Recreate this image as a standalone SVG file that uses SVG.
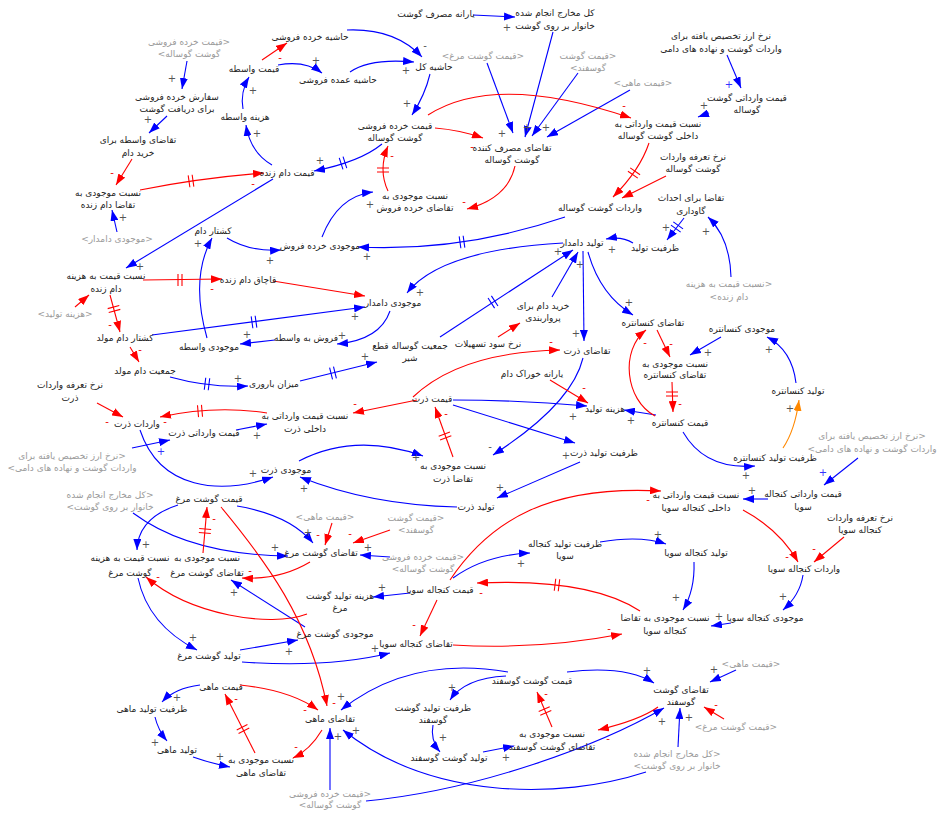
<svg xmlns="http://www.w3.org/2000/svg" xmlns:xlink="http://www.w3.org/1999/xlink" width="941" height="814" viewBox="0 0 941 814">
<style>
.t{font-family:'DejaVu Sans',sans-serif;font-size:9px;fill:#222;text-anchor:middle;direction:rtl}
.g{fill:#9a9a9a}
.s{font-family:'DejaVu Sans',sans-serif;font-size:10px;fill:#555;text-anchor:middle}
.sm{fill:#e00}
.sb{fill:#33f}
.b{fill:none;stroke:#00f;stroke-width:1.1;marker-end:url(#ab)}
.r{fill:none;stroke:#f00;stroke-width:1.1;marker-end:url(#ar)}
.o{fill:none;stroke:#f80;stroke-width:1.1;marker-end:url(#ao)}
.db{stroke:#00f;stroke-width:1.1;fill:none}
.dr{stroke:#f00;stroke-width:1.1;fill:none}
</style>
<defs>
<marker id="ab" viewBox="0 0 11 8" refX="11" refY="4" markerWidth="11" markerHeight="8" markerUnits="userSpaceOnUse" orient="auto"><path d="M0,0L11,4L0,8z" fill="#00f"/></marker>
<marker id="ar" viewBox="0 0 11 8" refX="11" refY="4" markerWidth="11" markerHeight="8" markerUnits="userSpaceOnUse" orient="auto"><path d="M0,0L11,4L0,8z" fill="#f00"/></marker>
<marker id="ao" viewBox="0 0 11 8" refX="11" refY="4" markerWidth="11" markerHeight="8" markerUnits="userSpaceOnUse" orient="auto"><path d="M0,0L11,4L0,8z" fill="#f80"/></marker>
<path id="dm" d="M-2,-6V6M2,-6V6"/>
</defs>
<rect width="941" height="814" fill="#fff"/>

<g id="connectors">
<path class="b" d="M187,61L182,89"/>
<path class="b" d="M167,116L149,133"/>
<path class="b" d="M272,165Q250,152 246,125"/>
<path class="b" d="M243,109Q240,92 249,77"/>
<path class="b" d="M278,65Q305,60 322,73"/>
<path class="b" d="M347,30Q395,28 422,57"/>
<path class="b" d="M350,72Q370,58 414,62"/>
<path class="b" d="M430,74Q425,95 412,115"/>
<path class="b" d="M473,15L515,17"/>
<path class="b" d="M553,32L525,137"/>
<path class="b" d="M487,63L513,133"/>
<path class="b" d="M578,73L532,136"/>
<path class="b" d="M630,90L547,137"/>
<path class="b" d="M727,55L741,88"/>
<path class="b" d="M709,113L698,117"/>
<path class="b" d="M382,144Q360,162 314,171"/>
<path class="b" d="M565,217Q462,252 358,247"/>
<path class="b" d="M322,237Q338,196 373,192"/>
<path class="b" d="M227,238Q250,252 281,250"/>
<path class="b" d="M117,232L112,210"/>
<path class="b" d="M273,179L126,268"/>
<path class="b" d="M207,338Q190,278 212,238"/>
<path class="b" d="M152,335L365,307"/>
<path class="b" d="M275,340L240,344"/>
<path class="b" d="M390,311Q380,340 337,344"/>
<path class="b" d="M170,377Q210,388 248,386"/>
<path class="b" d="M300,381L377,362"/>
<path class="b" d="M440,337L573,250"/>
<path class="b" d="M552,297L578,252"/>
<path class="b" d="M563,243Q440,250 407,293"/>
<path class="b" d="M633,243Q622,236 606,239"/>
<path class="b" d="M684,218L667,240"/>
<path class="b" d="M731,277Q730,238 708,217"/>
<path class="b" d="M583,251L584,341"/>
<path class="b" d="M588,252Q600,295 633,315"/>
<path class="b" d="M721,337L690,355"/>
<path class="b" d="M796,383Q792,350 767,337"/>
<path class="b" d="M656,415L624,410"/>
<path class="b" d="M683,432Q705,470 755,466"/>
<path class="b" d="M453,400Q520,400 587,406"/>
<path class="b" d="M453,405L575,443"/>
<path class="b" d="M583,358Q572,404 493,455"/>
<path class="b" d="M580,462L497,498"/>
<path class="b" d="M236,430L267,424"/>
<path class="b" d="M132,448L170,440"/>
<path class="b" d="M140,430C160,490 220,495 273,477"/>
<path class="b" d="M299,461Q355,432 423,456"/>
<path class="b" d="M457,507Q370,505 300,477"/>
<path class="b" d="M133,513Q190,555 288,556"/>
<path class="b" d="M178,505Q138,518 137,550"/>
<path class="b" d="M237,506Q290,515 313,543"/>
<path class="b" d="M305,627L231,580"/>
<path class="b" d="M138,578Q148,625 197,650"/>
<path class="b" d="M240,650L298,640"/>
<path class="b" d="M242,662Q330,668 390,653"/>
<path class="b" d="M410,593L373,597"/>
<path class="b" d="M453,578Q485,555 530,553"/>
<path class="b" d="M600,542Q640,535 666,544"/>
<path class="b" d="M694,562Q695,590 683,610"/>
<path class="b" d="M731,623L711,626"/>
<path class="b" d="M803,575Q800,595 783,610"/>
<path class="b" d="M768,499L743,499"/>
<path class="b" d="M858,458L824,485"/>
<path class="b" d="M390,557L360,555"/>
<path class="b" d="M200,685Q175,688 162,702"/>
<path class="b" d="M155,717Q158,730 167,741"/>
<path class="b" d="M193,757Q210,763 230,767"/>
<path class="b" d="M330,790L330,728"/>
<path class="b" d="M508,672Q410,655 341,710"/>
<path class="b" d="M646,772C560,800 430,800 343,730"/>
<path class="b" d="M366,801C480,790 600,745 664,708"/>
<path class="b" d="M506,676Q465,678 450,700"/>
<path class="b" d="M433,725Q430,740 440,752"/>
<path class="b" d="M483,752L514,746"/>
<path class="b" d="M567,672Q625,665 654,683"/>
<path class="b" d="M736,670L710,682"/>
<path class="b" d="M678,747L680,708"/>

<path class="r" d="M132,159L116,185"/>
<path class="r" d="M140,190Q200,178 264,173"/>
<path class="r" d="M262,60L287,43"/>
<path class="r" d="M435,128Q460,130 483,138"/>
<path class="r" d="M428,115Q495,72 631,118"/>
<path class="r" d="M515,166Q508,198 467,209"/>
<path class="r" d="M388,191Q378,170 388,146"/>
<path class="r" d="M649,143Q640,170 613,197"/>
<path class="r" d="M666,176L622,198"/>
<path class="r" d="M143,280L222,279"/>
<path class="r" d="M273,281L365,296"/>
<path class="r" d="M110,295L120,332"/>
<path class="r" d="M75,307L89,295"/>
<path class="r" d="M130,347L139,362"/>
<path class="r" d="M498,337L520,323"/>
<path class="r" d="M657,330L670,357"/>
<path class="r" d="M672,382L673,412"/>
<path class="r" d="M655,416C625,400 620,350 646,330"/>
<path class="r" d="M413,397Q460,352 560,350"/>
<path class="r" d="M550,380L588,403"/>
<path class="r" d="M453,457L435,407"/>
<path class="r" d="M417,400L353,413"/>
<path class="r" d="M267,413Q215,405 160,417"/>
<path class="r" d="M97,403L123,417"/>
<path class="r" d="M203,553L207,507"/>
<path class="r" d="M310,562Q280,580 242,578"/>
<path class="r" d="M221,507C265,560 310,620 327,706"/>
<path class="r" d="M332,523L325,545"/>
<path class="r" d="M390,530L353,543"/>
<path class="r" d="M307,614C270,628 190,615 146,577"/>
<path class="r" d="M450,580C490,520 550,485 661,491"/>
<path class="r" d="M640,611Q590,578 477,583"/>
<path class="r" d="M437,600L420,636"/>
<path class="r" d="M453,645Q540,650 622,634"/>
<path class="r" d="M743,510Q780,530 798,562"/>
<path class="r" d="M844,537L814,562"/>
<path class="r" d="M240,685Q290,690 318,710"/>
<path class="r" d="M322,730Q310,750 293,758"/>
<path class="r" d="M255,753L225,694"/>
<path class="r" d="M552,727L537,692"/>
<path class="r" d="M658,707Q640,720 598,730"/>
<path class="r" d="M724,719L704,707"/>

<path class="o" d="M783,448Q795,430 799,400"/>

<use href="#dm" class="dr" transform="translate(191,181) rotate(-8)"/>
<use href="#dm" class="dr" transform="translate(383,170) rotate(-90)"/>
<use href="#dm" class="db" transform="translate(343,163) rotate(162)"/>
<use href="#dm" class="dr" transform="translate(634,173) rotate(125)"/>
<use href="#dm" class="db" transform="translate(462,242) rotate(172)"/>
<use href="#dm" class="dr" transform="translate(180,280) rotate(0)"/>
<use href="#dm" class="dr" transform="translate(114,309) rotate(75)"/>
<use href="#dm" class="db" transform="translate(254,322) rotate(-8)"/>
<use href="#dm" class="db" transform="translate(207,384) rotate(7)"/>
<use href="#dm" class="db" transform="translate(333,373) rotate(-14)"/>
<use href="#dm" class="db" transform="translate(493,302) rotate(-33)"/>
<use href="#dm" class="db" transform="translate(677,227) rotate(126)"/>
<use href="#dm" class="dr" transform="translate(672,394) rotate(90)"/>
<use href="#dm" class="dr" transform="translate(445,436) rotate(-110)"/>
<use href="#dm" class="dr" transform="translate(200,411) rotate(175)"/>
<use href="#dm" class="dr" transform="translate(205,531) rotate(-85)"/>
<use href="#dm" class="dr" transform="translate(557,585) rotate(187)"/>
<use href="#dm" class="dr" transform="translate(243,729) rotate(-117)"/>
<use href="#dm" class="dr" transform="translate(545,711) rotate(-113)"/>

<g id="signs">
<text class="s" x="172" y="82">+</text>
<text class="s" x="148" y="123">+</text>
<text class="s sm" x="112" y="176">-</text>
<text class="s sm" x="253" y="187">-</text>
<text class="s" x="253" y="94">+</text>
<text class="s" x="257" y="137">+</text>
<text class="s sm" x="280" y="61">-</text>
<text class="s" x="316" y="64">+</text>
<text class="s" x="425" y="49">-</text>
<text class="s" x="406" y="74">+</text>
<text class="s" x="407" y="107">+</text>
<text class="s" x="507" y="31">+</text>
<text class="s" x="527" y="131">+</text>
<text class="s" x="502" y="137">+</text>
<text class="s" x="546" y="131">+</text>
<text class="s sm" x="472" y="150">-</text>
<text class="s sm" x="624" y="109">-</text>
<text class="s sm" x="464" y="205">-</text>
<text class="s sm" x="392" y="159">-</text>
<text class="s" x="320" y="164">+</text>
<text class="s sb" x="729" y="88">+</text>
<text class="s" x="704" y="109">+</text>
<text class="s" x="367" y="260">+</text>
<text class="s" x="370" y="208">+</text>
<text class="s" x="270" y="264">+</text>
<text class="s" x="123" y="221">+</text>
<text class="s" x="140" y="270">+</text>
<text class="s" x="198" y="247">+</text>
<text class="s sm" x="212" y="292">-</text>
<text class="s sm" x="110" y="328">-</text>
<text class="s sm" x="140" y="353">-</text>
<text class="s" x="355" y="320">+</text>
<text class="s" x="247" y="338">+</text>
<text class="s" x="342" y="339">+</text>
<text class="s" x="238" y="382">+</text>
<text class="s" x="365" y="360">+</text>
<text class="s" x="420" y="296">+</text>
<text class="s" x="558" y="255">+</text>
<text class="s" x="612" y="253">+</text>
<text class="s" x="580" y="268">+</text>
<text class="s" x="666" y="231">+</text>
<text class="s" x="706" y="235">+</text>
<text class="s" x="576" y="337">+</text>
<text class="s" x="629" y="306">+</text>
<text class="s sm" x="671" y="347">-</text>
<text class="s" x="708" y="356">+</text>
<text class="s sm" x="680" y="407">-</text>
<text class="s sm" x="645" y="346">-</text>
<text class="s" x="769" y="353">+</text>
<text class="s" x="790" y="412">+</text>
<text class="s" x="631" y="424">+</text>
<text class="s" x="746" y="479">+</text>
<text class="s sm" x="551" y="345">-</text>
<text class="s sm" x="584" y="391">-</text>
<text class="s" x="573" y="420">+</text>
<text class="s" x="566" y="459">+</text>
<text class="s" x="490" y="450">-</text>
<text class="s" x="500" y="491">+</text>
<text class="s sm" x="446" y="417">-</text>
<text class="s sm" x="355" y="407">-</text>
<text class="s sm" x="165" y="425">-</text>
<text class="s sm" x="107" y="425">-</text>
<text class="s" x="257" y="439">+</text>
<text class="s sb" x="161" y="455">+</text>
<text class="s" x="253" y="477">+</text>
<text class="s" x="416" y="461">+</text>
<text class="s" x="304" y="492">+</text>
<text class="s sm" x="214" y="522">-</text>
<text class="s" x="275" y="551">+</text>
<text class="s" x="146" y="548">+</text>
<text class="s" x="308" y="536">+</text>
<text class="s sm" x="250" y="574">-</text>
<text class="s" x="234" y="596">+</text>
<text class="s sm" x="158" y="580">-</text>
<text class="s" x="193" y="641">+</text>
<text class="s" x="289" y="655">+</text>
<text class="s sm" x="318" y="538">-</text>
<text class="s sm" x="350" y="537">-</text>
<text class="s" x="368" y="551">+</text>
<text class="s" x="375" y="652">+</text>
<text class="s" x="382" y="591">+</text>
<text class="s sm" x="648" y="503">-</text>
<text class="s sm" x="481" y="596">-</text>
<text class="s" x="521" y="567">+</text>
<text class="s" x="658" y="538">+</text>
<text class="s" x="676" y="601">+</text>
<text class="s" x="719" y="620">+</text>
<text class="s" x="783" y="600">+</text>
<text class="s" x="752" y="494">+</text>
<text class="s sb" x="823" y="476">+</text>
<text class="s sm" x="787" y="560">-</text>
<text class="s sm" x="814" y="552">-</text>
<text class="s sm" x="414" y="628">-</text>
<text class="s sm" x="609" y="632">-</text>
<text class="s" x="177" y="701">+</text>
<text class="s" x="155" y="746">+</text>
<text class="s" x="220" y="760">+</text>
<text class="s sm" x="236" y="702">-</text>
<text class="s sm" x="305" y="713">-</text>
<text class="s sm" x="296" y="750">-</text>
<text class="s sm" x="334" y="706">-</text>
<text class="s" x="341" y="700">+</text>
<text class="s" x="338" y="740">+</text>
<text class="s" x="356" y="734">+</text>
<text class="s" x="452" y="691">+</text>
<text class="s" x="443" y="741">+</text>
<text class="s" x="506" y="761">+</text>
<text class="s sm" x="546" y="697">-</text>
<text class="s sm" x="608" y="742">-</text>
<text class="s" x="647" y="674">+</text>
<text class="s" x="714" y="673">+</text>
<text class="s sm" x="716" y="708">-</text>
<text class="s" x="689" y="721">+</text>
<text class="s" x="662" y="725">+</text>
</g>
</g>

<g id="n01"><text class="t" x="310" y="40">حاشیه خرده فروشی</text></g>
<g id="n02"><text class="t" x="254" y="72">قیمت واسطه</text></g>
<g id="n03"><text class="t" x="338" y="83">حاشیه عمده فروشی</text></g>
<g id="n04"><text class="t" x="434" y="70">حاشیه کل</text></g>
<g id="n05"><text class="t" x="436" y="17">یارانه مصرف گوشت</text></g>
<g id="n06"><text class="t" x="555" y="16"><tspan x="555">کل مخارج انجام شده</tspan><tspan x="555" dy="13">خانوار بر روی گوشت</tspan></text></g>
<g id="n07"><text class="t g" x="189" y="45"><tspan x="189">&lt;قیمت خرده فروشی</tspan><tspan x="189" dy="12">گوشت گوساله&gt;</tspan></text></g>
<g id="n08"><text class="t" x="177" y="100"><tspan x="177">سفارش خرده فروشی</tspan><tspan x="177" dy="12">برای دریافت گوشت</tspan></text></g>
<g id="n09"><text class="t" x="245" y="120">هزینه واسطه</text></g>
<g id="n10"><text class="t" x="138" y="143"><tspan x="138">تقاضای واسطه برای</tspan><tspan x="138" dy="13">خرید دام</tspan></text></g>
<g id="n11"><text class="t" x="287" y="176">قیمت دام زنده</text></g>
<g id="n12"><text class="t" x="108" y="196"><tspan x="108">نسبت موجودی به</tspan><tspan x="108" dy="12">تقاضا دام زنده</tspan></text></g>
<g id="n13"><text class="t" x="395" y="129"><tspan x="395">قیمت خرده فروشی</tspan><tspan x="395" dy="12">گوشت گوساله</tspan></text></g>
<g id="n14"><text class="t" x="512" y="151"><tspan x="512">تقاضای مصرف کننده</tspan><tspan x="512" dy="12">گوشت گوساله</tspan></text></g>
<g id="n15"><text class="t g" x="483" y="59">&lt;قیمت گوشت مرغ&gt;</text></g>
<g id="n16"><text class="t g" x="588" y="59"><tspan x="588">&lt;قیمت گوشت</tspan><tspan x="588" dy="12">گوسفند&gt;</tspan></text></g>
<g id="n17"><text class="t g" x="643" y="86">&lt;قیمت ماهی&gt;</text></g>
<g id="n18"><text class="t" x="721" y="39"><tspan x="721">نرخ ارز تخصیص یافته برای</tspan><tspan x="721" dy="13">واردات گوشت و نهاده های دامی</tspan></text></g>
<g id="n19"><text class="t" x="747" y="101"><tspan x="747">قیمت وارداتی گوشت</tspan><tspan x="747" dy="12">گوساله</tspan></text></g>
<g id="n20"><text class="t" x="658" y="127"><tspan x="658">نسبت قیمت وارداتی به</tspan><tspan x="658" dy="12">داخلی گوشت گوساله</tspan></text></g>
<g id="n21"><text class="t" x="693" y="160"><tspan x="693">نرخ تعرفه واردات</tspan><tspan x="693" dy="12">گوشت گوساله</tspan></text></g>
<g id="n22"><text class="t" x="415" y="199"><tspan x="415">نسبت موجودی به</tspan><tspan x="415" dy="12">تقاضای خرده فروش</tspan></text></g>
<g id="n23"><text class="t" x="600" y="211">واردات گوشت گوساله</text></g>
<g id="n24"><text class="t" x="691" y="201"><tspan x="691">تقاضا برای احداث</tspan><tspan x="691" dy="13">گاوداری</tspan></text></g>
<g id="n25"><text class="t" x="655" y="251">ظرفیت تولید</text></g>
<g id="n26"><text class="t" x="582" y="246">تولید دامدار</text></g>
<g id="n27"><text class="t" x="320" y="249">موجودی خرده فروش</text></g>
<g id="n28"><text class="t" x="213" y="234">کشتار دام</text></g>
<g id="n29"><text class="t" x="248" y="283">قاچاق دام زنده</text></g>
<g id="n30"><text class="t" x="106" y="279"><tspan x="106">نسبت قیمت به هزینه</tspan><tspan x="106" dy="13">دام زنده</tspan></text></g>
<g id="n31"><text class="t g" x="117" y="242">&lt;موجودی دامدار&gt;</text></g>
<g id="n32"><text class="t g" x="65" y="317">&lt;هزینه تولید&gt;</text></g>
<g id="n33"><text class="t" x="393" y="306">موجودی دامدار</text></g>
<g id="n34"><text class="t" x="543" y="309"><tspan x="543">خرید دام برای</tspan><tspan x="543" dy="12">پرواربندی</tspan></text></g>
<g id="n35"><text class="t" x="653" y="326">تقاضای کنسانتره</text></g>
<g id="n36"><text class="t" x="742" y="332">موجودی کنسانتره</text></g>
<g id="n37"><text class="t g" x="729" y="287"><tspan x="729">&lt;نسبت قیمت به هزینه</tspan><tspan x="729" dy="13">دام زنده&gt;</tspan></text></g>
<g id="n38"><text class="t" x="125" y="341">کشتار دام مولد</text></g>
<g id="n39"><text class="t" x="306" y="341">فروش به واسطه</text></g>
<g id="n40"><text class="t" x="209" y="350">موجودی واسطه</text></g>
<g id="n41"><text class="t" x="488" y="347">نرخ سود تسهیلات</text></g>
<g id="n42"><text class="t" x="410" y="349"><tspan x="410">جمعیت گوساله قطع</tspan><tspan x="410" dy="12">شیر</tspan></text></g>
<g id="n43"><text class="t" x="587" y="354">تقاضای ذرت</text></g>
<g id="n44"><text class="t" x="675" y="367"><tspan x="675">نسبت موجودی به</tspan><tspan x="675" dy="11">تقاضای کنسانتره</tspan></text></g>
<g id="n45"><text class="t" x="145" y="374">جمعیت دام مولد</text></g>
<g id="n46"><text class="t" x="532" y="377">یارانه خوراک دام</text></g>
<g id="n47"><text class="t" x="274" y="387">میزان باروری</text></g>
<g id="n48"><text class="t" x="798" y="394">تولید کنسانتره</text></g>
<g id="n49"><text class="t" x="70" y="388"><tspan x="70">نرخ تعرفه واردات</tspan><tspan x="70" dy="13">ذرت</tspan></text></g>
<g id="n50"><text class="t" x="432" y="402">قیمت ذرت</text></g>
<g id="n51"><text class="t" x="605" y="412">هزینه تولید</text></g>
<g id="n52"><text class="t" x="680" y="426">قیمت کنسانتره</text></g>
<g id="n53"><text class="t" x="137" y="427">واردات ذرت</text></g>
<g id="n54"><text class="t" x="305" y="419"><tspan x="305">نسبت قیمت وارداتی به</tspan><tspan x="305" dy="13">داخلی ذرت</tspan></text></g>
<g id="n55"><text class="t" x="204" y="436">قیمت وارداتی ذرت</text></g>
<g id="n56"><text class="t" x="604" y="456">ظرفیت تولید ذرت</text></g>
<g id="n57"><text class="t" x="453" y="469"><tspan x="453">نسبت موجودی به</tspan><tspan x="453" dy="13">تقاضا ذرت</tspan></text></g>
<g id="n58"><text class="t" x="775" y="461">ظرفیت تولید کنسانتره</text></g>
<g id="n59"><text class="t g" x="72" y="459"><tspan x="72">&lt;نرخ ارز تخصیص یافته برای</tspan><tspan x="72" dy="12">واردات گوشت و نهاده های دامی&gt;</tspan></text></g>
<g id="n60"><text class="t g" x="872" y="439"><tspan x="872">&lt;نرخ ارز تخصیص یافته برای</tspan><tspan x="872" dy="13">واردات گوشت و نهاده های دامی&gt;</tspan></text></g>
<g id="n61"><text class="t" x="286" y="473">موجودی ذرت</text></g>
<g id="n62"><text class="t" x="803" y="497"><tspan x="803">قیمت وارداتی کنجاله</tspan><tspan x="803" dy="13">سویا</tspan></text></g>
<g id="n63"><text class="t" x="696" y="498"><tspan x="696">نسبت قیمت وارداتی به</tspan><tspan x="696" dy="13">داخلی کنجاله سویا</tspan></text></g>
<g id="n64"><text class="t" x="209" y="502">قیمت گوشت مرغ</text></g>
<g id="n65"><text class="t g" x="110" y="498"><tspan x="110">&lt;کل مخارج انجام شده</tspan><tspan x="110" dy="12">خانوار بر روی گوشت&gt;</tspan></text></g>
<g id="n66"><text class="t" x="476" y="510">تولید ذرت</text></g>
<g id="n67"><text class="t" x="860" y="521"><tspan x="860">نرخ تعرفه واردات</tspan><tspan x="860" dy="12">کنجاله سویا</tspan></text></g>
<g id="n68"><text class="t" x="321" y="556">تقاضای گوشت مرغ</text></g>
<g id="n69"><text class="t" x="130" y="561"><tspan x="130">نسبت قیمت به هزینه</tspan><tspan x="130" dy="15">گوشت مرغ</tspan></text></g>
<g id="n70"><text class="t" x="207" y="561"><tspan x="207">نسبت موجودی به</tspan><tspan x="207" dy="15">تقاضای گوشت مرغ</tspan></text></g>
<g id="n71"><text class="t g" x="325" y="520">&lt;قیمت ماهی&gt;</text></g>
<g id="n72"><text class="t g" x="416" y="521"><tspan x="416">&lt;قیمت گوشت</tspan><tspan x="416" dy="12">گوسفند&gt;</tspan></text></g>
<g id="n73"><text class="t g" x="423" y="560"><tspan x="423">&lt;قیمت خرده فروشی</tspan><tspan x="423" dy="12">گوشت گوساله&gt;</tspan></text></g>
<g id="n74"><text class="t" x="565" y="547"><tspan x="565">ظرفیت تولید کنجاله</tspan><tspan x="565" dy="12">سویا</tspan></text></g>
<g id="n75"><text class="t" x="696" y="556">تولید کنجاله سویا</text></g>
<g id="n76"><text class="t" x="804" y="572">واردات کنجاله سویا</text></g>
<g id="n77"><text class="t" x="440" y="593">قیمت کنجاله سویا</text></g>
<g id="n78"><text class="t" x="340" y="599"><tspan x="340">هزینه تولید گوشت</tspan><tspan x="340" dy="12">مرغ</tspan></text></g>
<g id="n79"><text class="t" x="335" y="637">موجودی گوشت مرغ</text></g>
<g id="n80"><text class="t" x="416" y="647">تقاضای کنجاله سویا</text></g>
<g id="n81"><text class="t" x="665" y="621"><tspan x="665">نسبت موجودی به تقاضا</tspan><tspan x="665" dy="13">کنجاله سویا</tspan></text></g>
<g id="n82"><text class="t" x="765" y="621">موجودی کنجاله سویا</text></g>
<g id="n83"><text class="t" x="209" y="659">تولید گوشت مرغ</text></g>
<g id="n84"><text class="t" x="532" y="684">قیمت گوشت گوسفند</text></g>
<g id="n85"><text class="t" x="681" y="693"><tspan x="681">تقاضای گوشت</tspan><tspan x="681" dy="12">گوسفند</tspan></text></g>
<g id="n86"><text class="t" x="221" y="690">قیمت ماهی</text></g>
<g id="n87"><text class="t" x="152" y="712">ظرفیت تولید ماهی</text></g>
<g id="n88"><text class="t" x="433" y="711"><tspan x="433">ظرفیت تولید گوشت</tspan><tspan x="433" dy="12">گوسفند</tspan></text></g>
<g id="n89"><text class="t" x="330" y="722">تقاضای ماهی</text></g>
<g id="n90"><text class="t" x="177" y="753">تولید ماهی</text></g>
<g id="n91"><text class="t" x="261" y="763"><tspan x="261">نسبت موجودی به</tspan><tspan x="261" dy="13">تقاضای ماهی</tspan></text></g>
<g id="n92"><text class="t" x="449" y="761">تولید گوشت گوسفند</text></g>
<g id="n93"><text class="t" x="552" y="737"><tspan x="552">نسبت موجودی به</tspan><tspan x="552" dy="13">تقاضای گوشت گوسفند</tspan></text></g>
<g id="n94"><text class="t g" x="751" y="667">&lt;قیمت ماهی&gt;</text></g>
<g id="n95"><text class="t g" x="736" y="730">&lt;قیمت گوشت مرغ&gt;</text></g>
<g id="n96"><text class="t g" x="677" y="757"><tspan x="677">&lt;کل مخارج انجام شده</tspan><tspan x="677" dy="12">خانوار بر روی گوشت&gt;</tspan></text></g>
<g id="n97"><text class="t g" x="330" y="797"><tspan x="330">&lt;قیمت خرده فروشی</tspan><tspan x="330" dy="11">گوشت گوساله&gt;</tspan></text></g>
</svg>
